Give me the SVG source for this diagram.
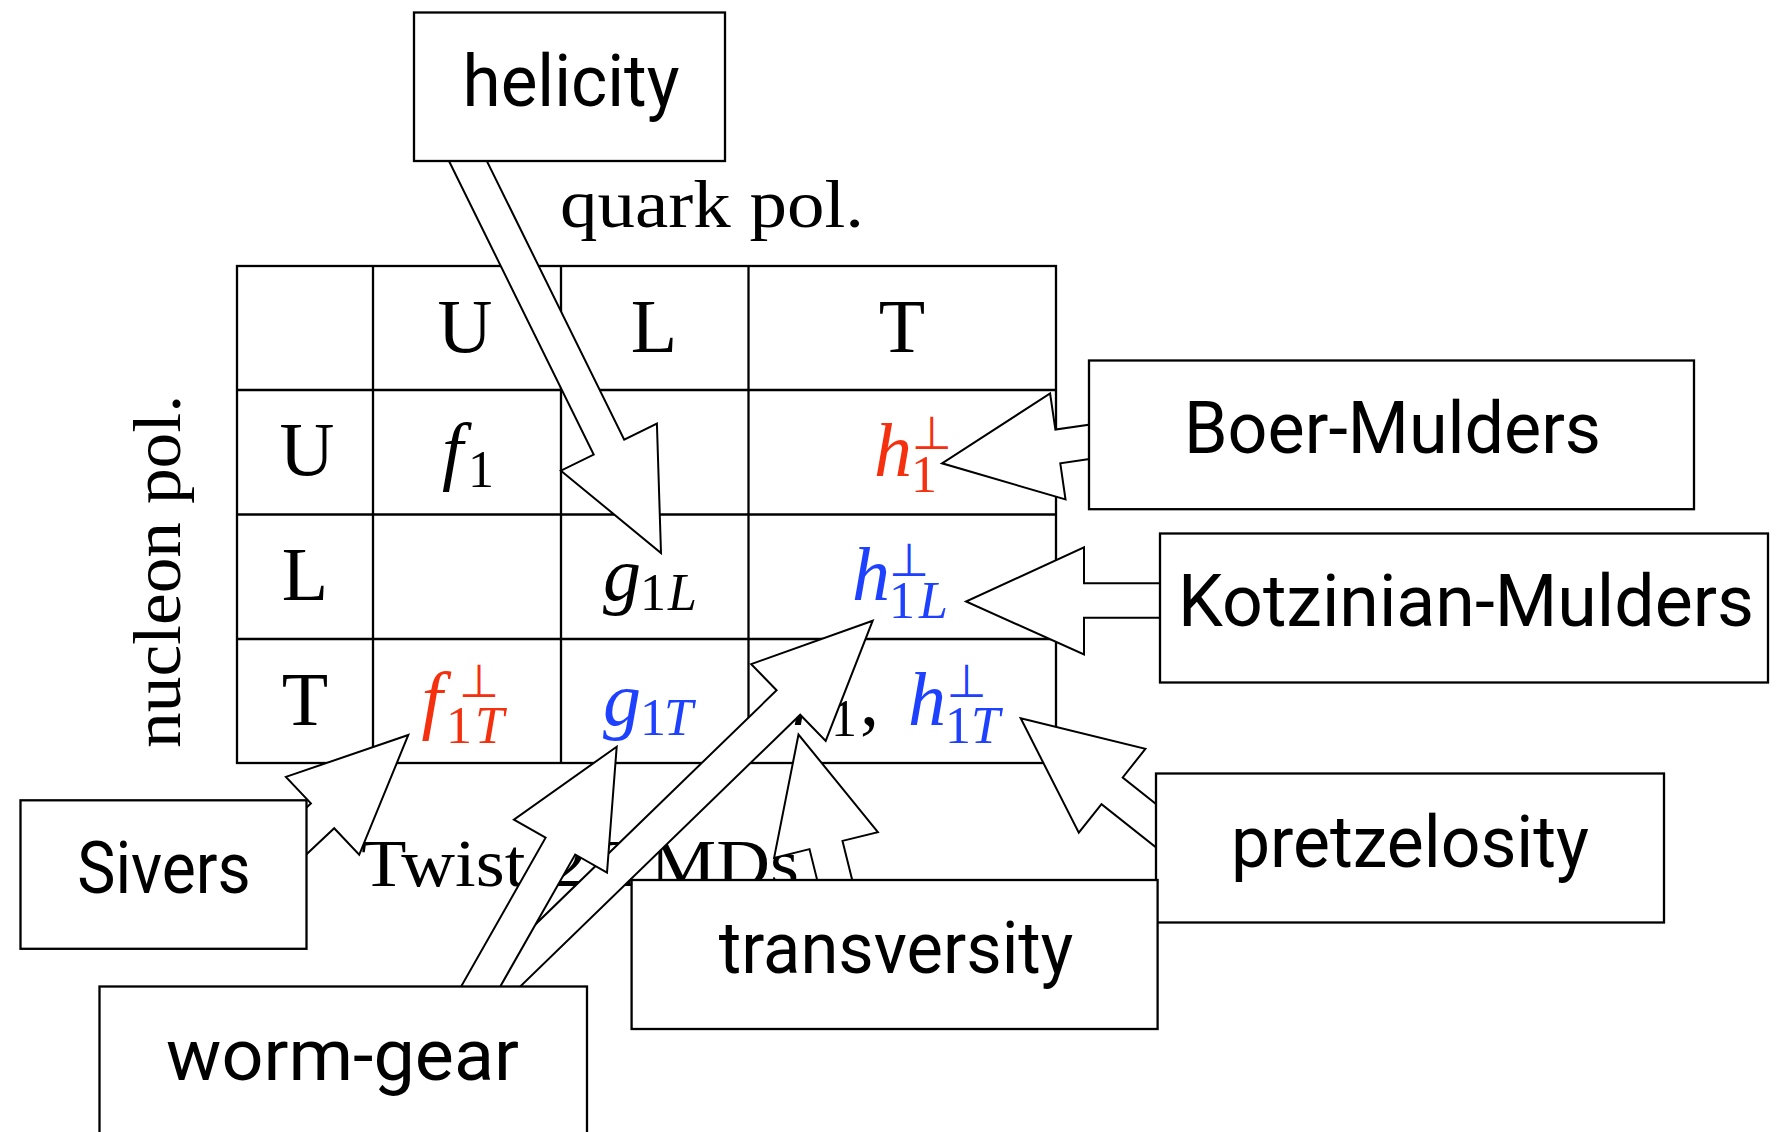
<svg xmlns="http://www.w3.org/2000/svg" width="1778" height="1132" viewBox="0 0 1778 1132">
<style>
.tbl{stroke:#000;stroke-width:2.3;fill:none}
.arr{fill:#fff;stroke:#000;stroke-width:2;stroke-linejoin:miter}
.box{fill:#fff;stroke:#000;stroke-width:2.3}
.lbl{font-family:Roboto,"Open Sans",sans-serif;font-size:72px;fill:#000;text-anchor:middle}
.rm{font-family:"Liberation Serif","Times New Roman",serif;font-size:76px;fill:#000}
.cap{font-family:"Liberation Serif","Times New Roman",serif;font-size:68px;fill:#000}
.mid{text-anchor:middle}
.it{font-style:italic}
.sub{font-size:52px}
.perp{font-family:"DejaVu Sans",sans-serif;font-size:46px;font-style:normal}
.red{fill:#f5300f}
.blue{fill:#1e40ff}
</style>
<rect width="1778" height="1132" fill="#fff"/>
<g id="table">
<rect class="tbl" x="237" y="266" width="819" height="497"/>
<line class="tbl" x1="237" y1="390" x2="1056" y2="390"/>
<line class="tbl" x1="237" y1="514.5" x2="1056" y2="514.5"/>
<line class="tbl" x1="237" y1="639" x2="1056" y2="639"/>
<line class="tbl" x1="373" y1="266" x2="373" y2="763"/>
<line class="tbl" x1="561" y1="266" x2="561" y2="763"/>
<line class="tbl" x1="748.5" y1="266" x2="748.5" y2="763"/>
<text class="rm mid" x="465" y="352">U</text>
<text class="rm mid" x="654" y="352">L</text>
<text class="rm mid" x="902" y="352">T</text>
<text class="rm mid" x="307" y="475">U</text>
<text class="rm mid" x="305" y="600">L</text>
<text class="rm mid" x="305" y="725">T</text>
<text class="rm"><tspan class="it" x="442" y="476">f</tspan><tspan class="sub" x="468" y="487">1</tspan></text>
<text class="rm red"><tspan class="it" x="874" y="476">h</tspan><tspan class="perp" x="911.7" y="449">⊥</tspan><tspan class="sub" x="911" y="492">1</tspan></text>
<text class="rm"><tspan class="it" x="603" y="600">g</tspan><tspan class="sub" x="640" y="610">1</tspan><tspan class="sub it" x="668" y="610">L</tspan></text>
<text class="rm blue"><tspan class="it" x="852" y="600">h</tspan><tspan class="perp" x="889" y="576">⊥</tspan><tspan class="sub" x="889" y="618">1</tspan><tspan class="sub it" x="919" y="618">L</tspan></text>
<text class="rm red"><tspan class="it" x="421.5" y="725">f</tspan><tspan class="perp" x="459" y="697">⊥</tspan><tspan class="sub" x="446" y="743">1</tspan><tspan class="sub it" x="475" y="743">T</tspan></text>
<text class="rm blue"><tspan class="it" x="603" y="725">g</tspan><tspan class="sub" x="640" y="735">1</tspan><tspan class="sub it" x="664" y="735">T</tspan></text>
<text class="rm"><tspan class="it" x="792" y="725">h</tspan><tspan class="sub" x="831" y="736">1</tspan><tspan x="860" y="725">,</tspan></text>
<text class="rm blue"><tspan class="it" x="908" y="725">h</tspan><tspan class="perp" x="946.4" y="697">⊥</tspan><tspan class="sub" x="945" y="743">1</tspan><tspan class="sub it" x="971" y="743">T</tspan></text>
</g>
<g id="axis-labels">
<text class="cap" x="560" y="227" textLength="304" lengthAdjust="spacingAndGlyphs">quark pol.</text>
<text class="cap mid" transform="translate(180,571.5) rotate(-90)" x="0" y="0" textLength="353" lengthAdjust="spacingAndGlyphs">nucleon pol.</text>
<text class="cap" x="361" y="886" textLength="438" lengthAdjust="spacingAndGlyphs">Twist-2 TMDs</text>
</g>
<g id="connectors">
<polygon class="arr" points="443.8,150.5 593.7,454.6 560.9,470.7 661,553 656.9,423.5 624.2,439.6 474.3,135.5"/>
<polygon class="arr" points="1114.8,421 1055.4,429.6 1050.1,393.5 942,463.3 1065.5,499.4 1060.3,463.3 1119.7,454.6"/>
<polygon class="arr" points="1190,583.3 1084,583.3 1084,547.3 966,601.5 1084,654.5 1084,617.8 1190,617.8"/>
<polygon class="arr" points="276,883 334.2,828.2 359.2,854.8 408.3,735 285.9,776.9 310.9,803.4 252.7,858.2"/>
<polygon class="arr" points="484.5,1021.1 800.2,714.7 825.7,740.9 872.7,620.7 751.2,664.1 776.6,690.3 460.9,996.7"/>
<polygon class="arr" points="486.3,1011.1 575.2,854.5 607,872.5 616.7,746.7 513.9,819.7 545.6,837.7 456.7,994.3"/>
<polygon class="arr" points="861.8,918.5 842.5,840.9 877.9,832.1 798.5,734.5 774.1,857.9 809.5,849.1 828.8,926.7"/>
<polygon class="arr" points="1185.3,827.3 1122.7,777.5 1145.4,748.9 1020.7,718.3 1078.8,832.7 1101.5,804.1 1164.1,853.9"/>
</g>
<g id="node-helicity">
<rect class="box" x="414" y="12.5" width="311" height="148.5"/>
<text class="lbl" x="571" y="106" textLength="217" lengthAdjust="spacingAndGlyphs">helicity</text>
</g>
<g id="node-boer-mulders">
<rect class="box" x="1089" y="360.5" width="605" height="148.7"/>
<text class="lbl" x="1392.5" y="452.7" textLength="417" lengthAdjust="spacingAndGlyphs">Boer-Mulders</text>
</g>
<g id="node-kotzinian-mulders">
<rect class="box" x="1160" y="533.5" width="608" height="149"/>
<text class="lbl" x="1466" y="626" textLength="576" lengthAdjust="spacingAndGlyphs">Kotzinian-Mulders</text>
</g>
<g id="node-sivers">
<rect class="box" x="20.5" y="800.3" width="286" height="148.5"/>
<text class="lbl" x="164" y="892.7" textLength="173.5" lengthAdjust="spacingAndGlyphs">Sivers</text>
</g>
<g id="node-pretzelosity">
<rect class="box" x="1156" y="773.5" width="508" height="149"/>
<text class="lbl" x="1410" y="866.7" textLength="358" lengthAdjust="spacingAndGlyphs">pretzelosity</text>
</g>
<g id="node-transversity">
<rect class="box" x="631.6" y="880" width="526" height="149"/>
<text class="lbl" x="896" y="973" textLength="354.5" lengthAdjust="spacingAndGlyphs">transversity</text>
</g>
<g id="node-worm-gear">
<rect class="box" x="99.5" y="986.5" width="487.5" height="150"/>
<text class="lbl" x="342.5" y="1080" textLength="353" lengthAdjust="spacingAndGlyphs">worm-gear</text>
</g>
</svg>
